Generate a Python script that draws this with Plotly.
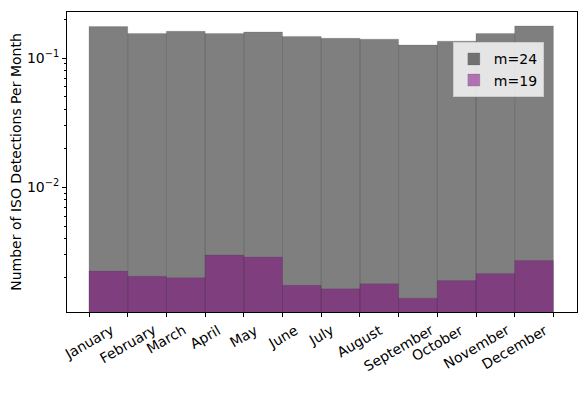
import plotly.graph_objects as go

# Monthly detection rates
months = ["January", "February", "March", "April", "May", "June", "July",
          "August", "September", "October", "November", "December"]
m24 = [0.175, 0.155, 0.161, 0.155, 0.159, 0.147, 0.142, 0.140, 0.126, 0.135, 0.155, 0.177]
m19 = [0.00225, 0.00205, 0.00200, 0.00300, 0.00289, 0.00175, 0.00164, 0.00180, 0.00139, 0.00190, 0.00216, 0.00272]

centers = [i + 0.5 for i in range(len(months))]
edges = list(range(len(months) + 1))

# log-axis tick positions
major_vals = [0.01, 0.1]
major_text = ["10<sup>\u22122</sup>", "10<sup>\u22121</sup>"]
minor_vals = [k * 10.0 ** e for e in (-3, -2, -1) for k in range(2, 10)]

fig = go.Figure()
fig.add_trace(go.Bar(x=centers, y=m24, width=1, name="m=24",
                     marker=dict(color="rgba(0,0,0,0.5)",
                                 line=dict(width=0.6, color="rgba(60,60,60,0.3)"))))
fig.add_trace(go.Bar(x=centers, y=m19, width=1, name="m=19",
                     marker=dict(color="rgba(128,0,128,0.5)",
                                 line=dict(width=0.6, color="rgba(60,60,60,0.3)"))))

# month labels centred on the bin edges, rotated like matplotlib
for x, m in zip(edges, months):
    fig.add_annotation(x=x, y=0, xref="x", yref="paper", text=m,
                       textangle=-30, showarrow=False, xanchor="center",
                       yanchor="top", yshift=-7, font=dict(size=14))

# page body adds an 8px offset, so margins are trimmed by 8
fig.update_layout(
    barmode="overlay",
    width=588, height=394,
    margin=dict(l=59, r=19, t=4, b=90),
    plot_bgcolor="white", paper_bgcolor="white",
    font=dict(family="DejaVu Sans", size=14, color="black"),
    showlegend=True,
    legend=dict(x=0.935, y=0.899, xanchor="right", yanchor="top",
                bgcolor="rgba(255,255,255,0.8)", bordercolor="#cccccc",
                borderwidth=1, font=dict(size=14)),
)

fig.update_xaxes(range=[-0.569, 12.61], tickmode="array", tickvals=edges,
                 showticklabels=False, ticks="outside",
                 ticklen=4, tickcolor="black", showgrid=False, zeroline=False,
                 showline=True, linecolor="black", linewidth=1, mirror=True,
                 automargin=False)

fig.update_yaxes(type="log", range=[-2.964, -0.644],
                 tickmode="array", tickvals=major_vals, ticktext=major_text,
                 ticks="outside", ticklen=4,
                 tickcolor="black", showgrid=False, zeroline=False,
                 showline=True, linecolor="black", linewidth=1, mirror=True,
                 automargin=False,
                 minor=dict(ticks="outside", ticklen=2, tickcolor="black",
                            tickmode="array", tickvals=minor_vals, showgrid=False),
                 title=dict(text="Number of ISO Detections Per Month", font=dict(size=14), standoff=6),
                 tickfont=dict(size=14))

fig.write_html("out.html")
